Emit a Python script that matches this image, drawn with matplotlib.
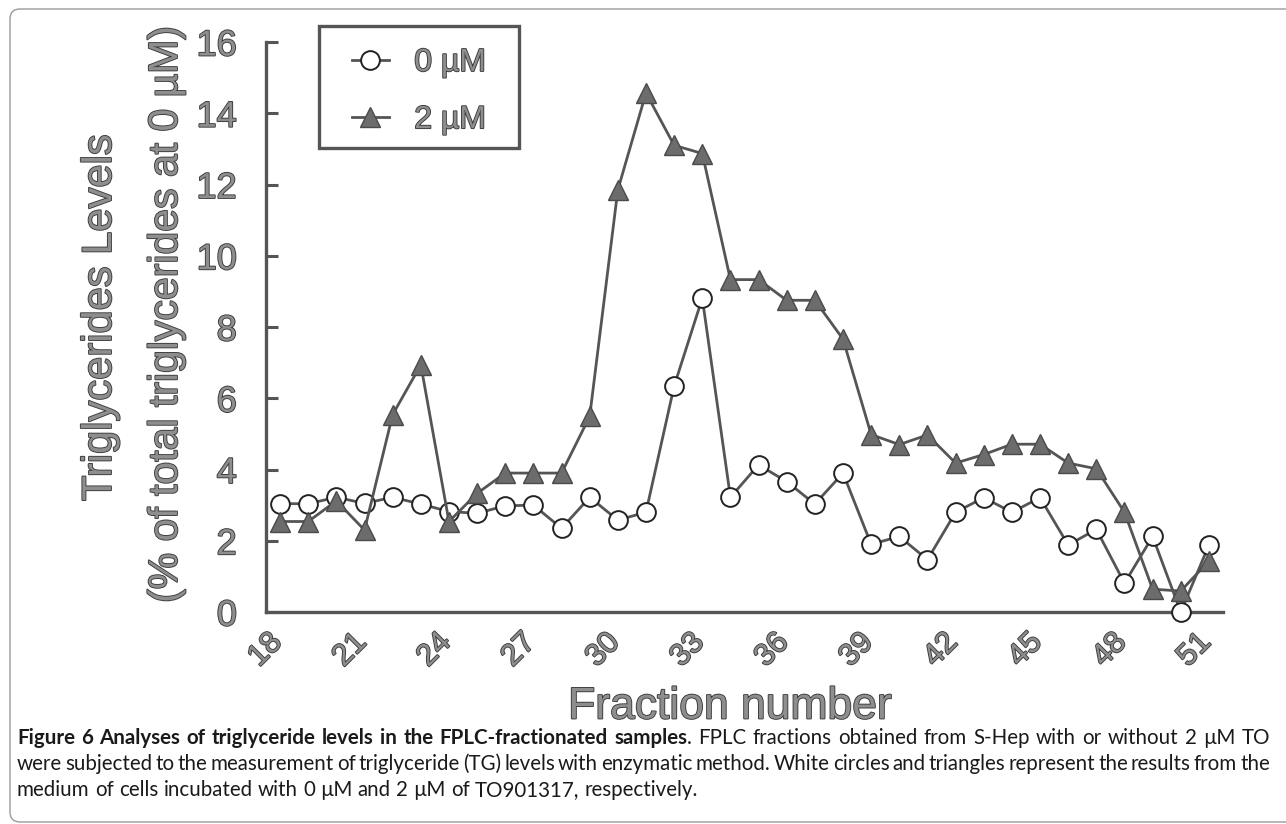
import matplotlib
matplotlib.use("Agg")
import matplotlib.pyplot as plt
import matplotlib.patheffects as pe
from matplotlib.lines import Line2D
from matplotlib.patches import FancyBboxPatch, Rectangle
from matplotlib.transforms import IdentityTransform, ScaledTranslation

# ---------------- data ----------------
fractions = [18, 19, 20, 21, 22, 23, 24, 25, 26, 27, 28, 29, 30, 31, 32, 33, 34,
             35, 36, 37, 38, 39, 40, 41, 42, 43, 44, 45, 46, 47, 48, 49, 50, 51]
tg_0uM = [3.04, 3.04, 3.22, 3.05, 3.22, 3.03, 2.82, 2.77, 2.98, 3.00, 2.35, 3.22,
          2.58, 2.80, 6.34, 8.81, 3.22, 4.13, 3.66, 3.03, 3.90, 1.90, 2.12, 1.47,
          2.80, 3.21, 2.80, 3.21, 1.88, 2.32, 0.81, 2.12, 0.00, 1.88]
tg_2uM = [2.54, 2.54, 3.12, 2.30, 5.54, 6.94, 2.54, 3.33, 3.90, 3.90, 3.90, 5.49,
          11.85, 14.57, 13.10, 12.87, 9.33, 9.33, 8.75, 8.75, 7.66, 4.98, 4.70,
          4.97, 4.18, 4.42, 4.71, 4.71, 4.18, 4.02, 2.80, 0.64, 0.59, 1.43]
xtick_values = [18, 21, 24, 27, 30, 33, 36, 39, 42, 45, 48, 51]
ytick_values = [0, 2, 4, 6, 8, 10, 12, 14, 16]
series_labels = ["0 \u00b5M", "2 \u00b5M"]
xlabel_text = "Fraction number"
ylabel_line1 = "Triglycerides Levels"
ylabel_line2 = "(% of total triglycerides at 0 \u00b5M)"
caption_bold = "Figure 6 Analyses of triglyceride levels in the FPLC-fractionated samples"
caption_line1_rest = ". FPLC fractions obtained from S-Hep with or without 2 \u00b5M TO"
caption_line2 = ("were subjected to the measurement of triglyceride (TG) levels with "
                 "enzymatic method. White circles and triangles represent the results from the")
caption_line3 = "medium of cells incubated with 0 \u00b5M and 2 \u00b5M of TO901317, respectively."

# ---------------- style ----------------
W, H = 1286, 824
DPI = 100
TXT_FILL = "#8e8e8e"
TXT_EDGE = "#3a3a3a"
LINE_C = "#555555"
fx = [pe.withStroke(linewidth=1.3, foreground=TXT_EDGE)]
AX_FONT = ["Liberation Sans", "DejaVu Sans"]


def fig_xy(px, py):
    return px / W, 1 - py / H


fig = plt.figure(figsize=(W / DPI, H / DPI), dpi=DPI)
fig.patch.set_facecolor("white")

# outer rounded frame
frame = FancyBboxPatch((10, 2), 1300, 813, boxstyle="round,pad=0,rounding_size=10",
                       transform=IdentityTransform(), fill=False, edgecolor="#9a9a9a",
                       linewidth=1.0)
fig.patches.append(frame)

ax_l, ax_r, ax_t, ax_b = 266, 1223, 42, 612
ax = fig.add_axes([ax_l / W, 1 - ax_b / H, (ax_r - ax_l) / W, (ax_b - ax_t) / H])

circle_style = dict(color=LINE_C, lw=2.0, marker="o", markersize=13.5,
                    markerfacecolor="white", markeredgecolor="#222222",
                    markeredgewidth=1.4)
tri_style = dict(color=LINE_C, lw=2.0, marker="^", markersize=15,
                 markerfacecolor="#6c6c6c", markeredgecolor="#4a4a4a",
                 markeredgewidth=1.0)

ax.plot(fractions, tg_0uM, clip_on=False, zorder=3, label=series_labels[0],
        **circle_style)
ax.plot(fractions, tg_2uM, clip_on=False, zorder=4, label=series_labels[1],
        **tri_style)

ax.set_xlim(17.5, 51.5)
ax.set_ylim(0, 16)
ax.set_xticks(xtick_values)
ax.set_yticks(ytick_values)
ax.set_xticklabels([str(v) for v in xtick_values])
ax.set_yticklabels([str(v) for v in ytick_values])

for s in ["top", "right"]:
    ax.spines[s].set_visible(False)
for s in ["left", "bottom"]:
    ax.spines[s].set_color(LINE_C)
    ax.spines[s].set_linewidth(2.4)

ax.tick_params(axis="y", direction="in", length=8.5, width=2.2, color=LINE_C,
               pad=21, labelsize=26)
ax.tick_params(axis="x", length=0, pad=11, labelsize=22)

for lbl in ax.get_yticklabels():
    lbl.set_family(AX_FONT)
    lbl.set_color(TXT_FILL)
    lbl.set_path_effects(fx)
shift = ScaledTranslation(8 / DPI, 0, fig.dpi_scale_trans)
for lbl in ax.get_xticklabels():
    lbl.set_family(AX_FONT)
    lbl.set_color(TXT_FILL)
    lbl.set_path_effects(fx)
    lbl.set_rotation(45)
    lbl.set_ha("right")
    lbl.set_va("top")
    lbl.set_transform(lbl.get_transform() + shift)

# axis labels
fig.text(*fig_xy(730, 707), xlabel_text, ha="center", va="center", fontsize=32,
         family=AX_FONT, color=TXT_FILL, path_effects=fx)
fig.text(*fig_xy(100, 318), ylabel_line1, ha="center", va="center", rotation=90,
         fontsize=30, family=AX_FONT, color=TXT_FILL, path_effects=fx)
fig.text(*fig_xy(166, 314), ylabel_line2, ha="center", va="center", rotation=90,
         fontsize=29.5, family=AX_FONT, color=TXT_FILL, path_effects=fx)

# legend (box drawn separately for exact padding)
box = Rectangle((319, H - 148), 200, 122, transform=IdentityTransform(),
                fill=True, facecolor="white", edgecolor=LINE_C, linewidth=2.4,
                zorder=5)
fig.patches.append(box)
handles = [Line2D([], [], **circle_style), Line2D([], [], **tri_style)]
leg = fig.legend(handles, series_labels, loc="upper left",
                 bbox_to_anchor=fig_xy(352, 48), bbox_transform=fig.transFigure,
                 borderaxespad=0, frameon=False, handlelength=1.15,
                 handletextpad=0.8, borderpad=0, labelspacing=0.85,
                 prop={"family": AX_FONT, "size": 23})
leg.set_zorder(6)
for t in leg.get_texts():
    t.set_color(TXT_FILL)
    t.set_path_effects(fx)

# ---------------- caption (justified) ----------------
CAP_FONT = ["Lato", "DejaVu Sans"]
renderer = fig.canvas.get_renderer()


def measure(txt, size, weight="normal"):
    t = fig.text(0, 0, txt, fontsize=size, family=CAP_FONT, fontweight=weight)
    w = t.get_window_extent(renderer).width
    t.remove()
    return w


target3 = 698 - 17
cap_size = 10 * target3 / measure(caption_line3, 10)

left_x, right_x = 17, 1270
baselines = [744, 770, 796]


def draw_words(words, baseline, justify):
    widths = []
    for segs in words:
        widths.append(sum(measure(s, cap_size, w) for s, w in segs))
    space = measure("a b", cap_size) - measure("ab", cap_size)
    if justify and len(words) > 1:
        gap = (right_x - left_x - sum(widths)) / (len(words) - 1)
    else:
        gap = space
    x = left_x
    for segs, wd in zip(words, widths):
        xx = x
        for s, w in segs:
            fig.text(xx / W, 1 - baseline / H, s, fontsize=cap_size, family=CAP_FONT,
                     fontweight=w, ha="left", va="baseline", color="#1a1a1a")
            xx += measure(s, cap_size, w)
        x += wd + gap


bold_words = caption_bold.split(" ")
rest_words = caption_line1_rest.split(" ")
line1 = [[(w, "bold")] for w in bold_words[:-1]]
line1.append([(bold_words[-1], "bold"), (rest_words[0], "normal")])
line1 += [[(w, "normal")] for w in rest_words[1:]]
draw_words(line1, baselines[0], True)
draw_words([[(w, "normal")] for w in caption_line2.split(" ")], baselines[1], True)
draw_words([[(w, "normal")] for w in caption_line3.split(" ")], baselines[2], False)

fig.savefig("out.png", dpi=DPI, facecolor="white")
